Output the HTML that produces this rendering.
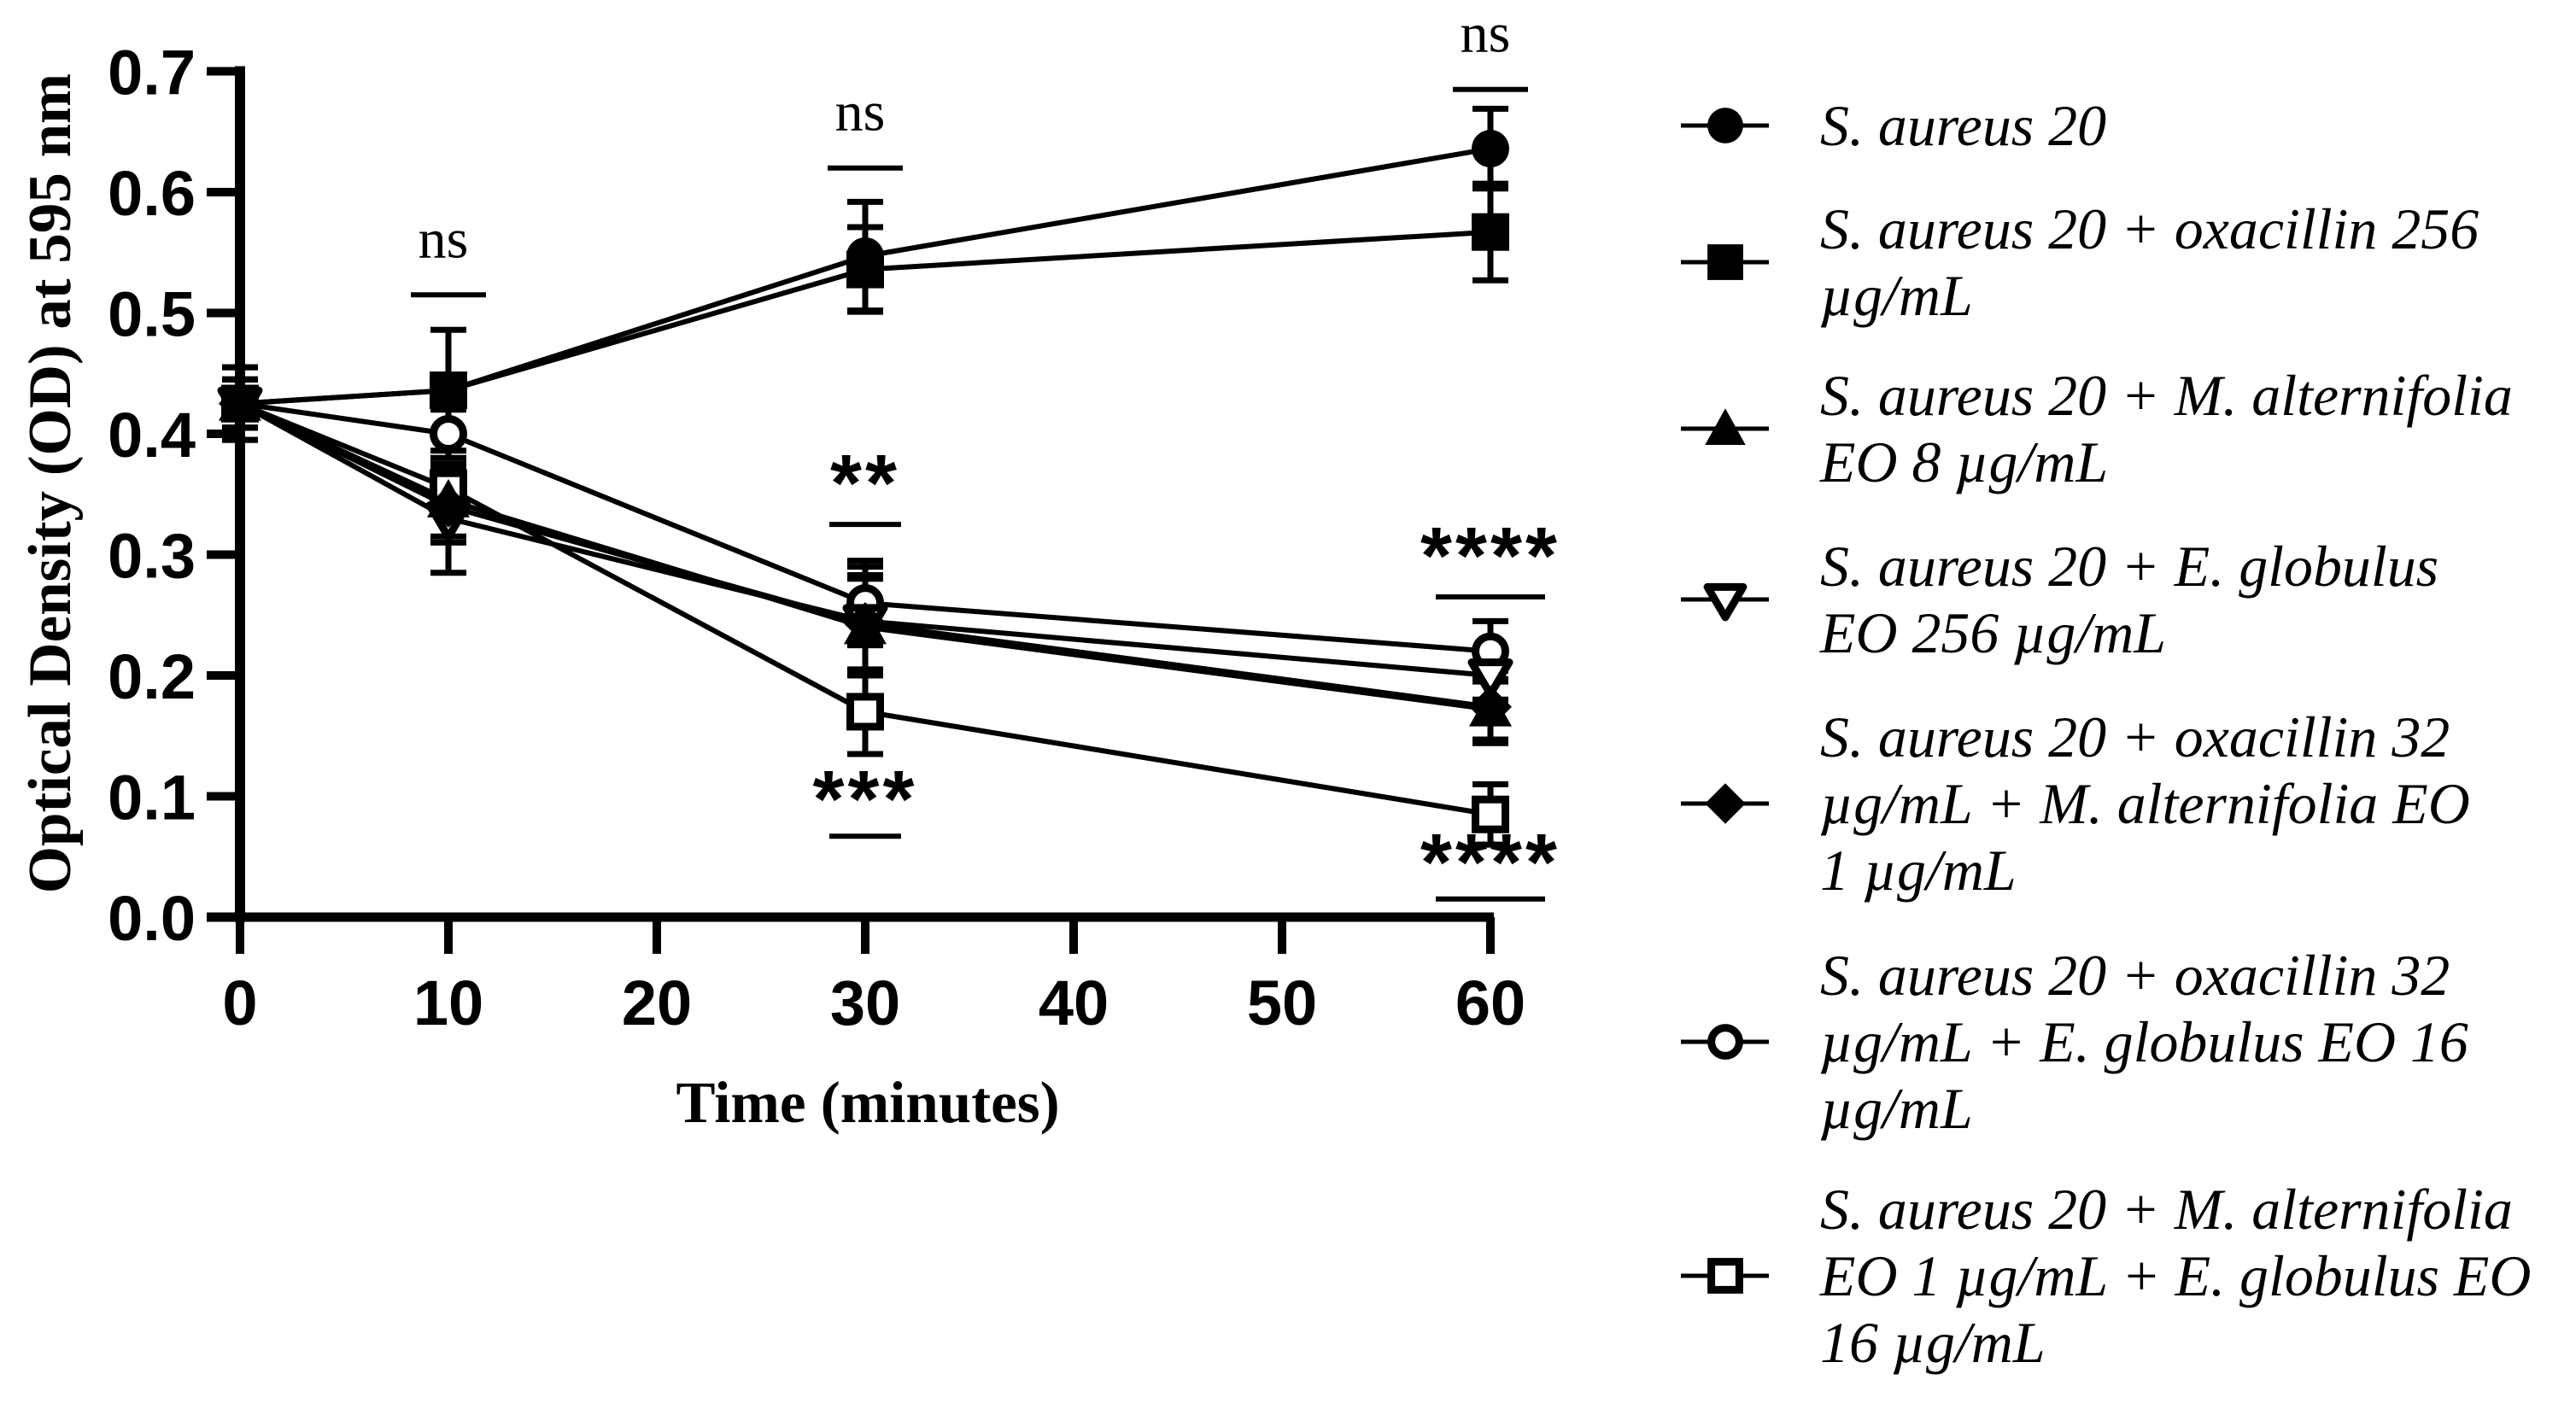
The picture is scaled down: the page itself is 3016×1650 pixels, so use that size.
<!DOCTYPE html>
<html><head><meta charset="utf-8"><style>
html,body{margin:0;padding:0;background:#fff;}
svg{display:block;}
</style></head><body>
<svg id="chart" width="3016" height="1650" viewBox="0 0 3016 1650" xmlns="http://www.w3.org/2000/svg">
<g id="axes"></g>
<g id="errs"></g>
<g id="lines"></g>
<g id="marks"></g>
<g id="annots"></g>
<g id="legend"></g>
</svg>
<script>
const times = [0, 10, 30, 60];
const xTicks = [0, 10, 20, 30, 40, 50, 60];
const yTicks = [0, 0.1, 0.2, 0.3, 0.4, 0.5, 0.6, 0.7];
const yTickLabels = ["0.0","0.1","0.2","0.3","0.4","0.5","0.6","0.7"];
const sAureus = [0.425, 0.436, 0.547, 0.636];
const oxa256 = [0.425, 0.436, 0.536, 0.567];
const maEO8 = [0.425, 0.345, 0.240, 0.172];
const egEO256 = [0.425, 0.330, 0.245, 0.200];
const oxaMa = [0.425, 0.340, 0.243, 0.174];
const oxaEg = [0.425, 0.400, 0.260, 0.220];
const maEg = [0.425, 0.355, 0.170, 0.085];
const sdSAureus = [0.030, 0.010, 0.045, 0.033];
const sdOxa256 = [0.030, 0.050, 0.035, 0.040];
const sdMaEO8 = [0.020, 0.030, 0.040, 0.025];
const sdEgEO256 = [0.020, 0.045, 0.045, 0.020];
const sdOxaMa = [0.020, 0.030, 0.040, 0.030];
const sdOxaEg = [0.020, 0.020, 0.035, 0.025];
const sdMaEg = [0.020, 0.020, 0.035, 0.025];
const annotTimes = [10, 30, 60, 30, 60, 30, 60];
const annotText = ["ns","ns","ns","**","****","***","****"];
const annotBarValues = [0.515, 0.62, 0.685, 0.325, 0.265, 0.067, 0.015];

const NS="http://www.w3.org/2000/svg";
const X0=281, XPER=244/10, Y0=1074, YPER=141.5/0.1;
function sx(t){return X0+t*XPER;}
function sy(v){return Y0-v*YPER;}
function mk(tag,attrs,parent){const e=document.createElementNS(NS,tag);for(const k in attrs)e.setAttribute(k,attrs[k]);parent.appendChild(e);return e;}
const axes=document.getElementById('axes');
let yAxis=mk('line',{x1:X0,y1:sy(0.7)-6,x2:X0,y2:Y0+6,stroke:'#000','stroke-width':12},axes);


let xAxis=mk('line',{x1:242,y1:Y0,x2:1749,y2:Y0,stroke:'#000','stroke-width':11},axes);


yTicks.forEach((v,i)=>{
  const t=mk('line',{x1:242,y1:sy(v),x2:X0,y2:sy(v),stroke:'#000','stroke-width':10},axes);
  
  
  const l=mk('text',{x:229,y:sy(v)+27,'text-anchor':'end','font-family':'Liberation Sans, sans-serif','font-weight':'bold','font-size':74},axes);
  l.textContent=yTickLabels[i];
  
  
});
xTicks.forEach(t=>{
  const k=mk('line',{x1:sx(t),y1:Y0,x2:sx(t),y2:1117,stroke:'#000','stroke-width':10},axes);
  
  
  const l=mk('text',{x:sx(t),y:1200,'text-anchor':'middle','font-family':'Liberation Sans, sans-serif','font-weight':'bold','font-size':74},axes);
  l.textContent=String(t);
  
  
});
let xt=mk('text',{x:1016,y:1314,'text-anchor':'middle','font-family':'Liberation Serif, serif','font-weight':'bold','font-size':69},axes);
xt.textContent='Time (minutes)';


let yt=mk('text',{x:0,y:0,'text-anchor':'middle','font-family':'Liberation Serif, serif','font-weight':'bold','font-size':71,transform:'translate(82,566) rotate(-90)'},axes);
yt.textContent='Optical Density (OD) at 595 nm';



const series=[
 {v:sAureus,sd:sdSAureus,m:'circle',fill:true},
 {v:oxa256,sd:sdOxa256,m:'square',fill:true},
 {v:maEO8,sd:sdMaEO8,m:'tri',fill:true},
 {v:egEO256,sd:sdEgEO256,m:'itri',fill:false},
 {v:oxaMa,sd:sdOxaMa,m:'diamond',fill:true},
 {v:oxaEg,sd:sdOxaEg,m:'circle',fill:false},
 {v:maEg,sd:sdMaEg,m:'square',fill:false}
];
function marker(type,fill,cx,cy,parent,scale){
  const s=scale||1, f=fill?'#000':'#fff', sw=fill?0:9;
  let e;
  if(type==='circle') e=mk('circle',{cx:cx,cy:cy,r:22*s-sw/2,fill:f,stroke:'#000','stroke-width':sw},parent);
  else if(type==='square'){const h=22*s-sw/2;e=mk('rect',{x:cx-h,y:cy-h,width:2*h,height:2*h,fill:f,stroke:'#000','stroke-width':sw},parent);}
  else if(type==='tri'){const r=25*s;e=mk('polygon',{points:`${cx},${cy-r} ${cx+r},${cy+r*0.8} ${cx-r},${cy+r*0.8}`,fill:f},parent);}
  else if(type==='itri'){const r=22*s;e=mk('polygon',{points:`${cx-r},${cy-r*0.7} ${cx+r},${cy-r*0.7} ${cx},${cy+r}`,fill:f,stroke:'#000','stroke-width':sw,'stroke-linejoin':'round'},parent);}
  else {const r=25*s;e=mk('polygon',{points:`${cx},${cy-r} ${cx+r},${cy} ${cx},${cy+r} ${cx-r},${cy}`,fill:f},parent);}
  return e;
}
const errs=document.getElementById('errs'),lines=document.getElementById('lines'),marks=document.getElementById('marks');
series.forEach((s,si)=>{
  s.v.forEach((v,i)=>{
    const x=sx(times[i]);
    const b=mk('path',{d:`M${x},${sy(v+s.sd[i])}V${sy(v-s.sd[i])}M${x-21},${sy(v+s.sd[i])}H${x+21}M${x-21},${sy(v-s.sd[i])}H${x+21}`,stroke:'#000','stroke-width':7,fill:'none'},errs);
    
    
  });
  const pl=mk('polyline',{points:s.v.map((v,i)=>sx(times[i])+','+sy(v)).join(' '),fill:'none',stroke:'#000','stroke-width':6},lines);
  
  
});
[6,5,3,4,2,0,1].forEach(si=>{
  const s=series[si];
  s.v.forEach((v,i)=>{
    const m=marker(s.m,s.fill,sx(times[i]),sy(v),marks);
    
    
  });
});
const annots=document.getElementById('annots');
annotText.forEach((t,i)=>{
  const x=sx(annotTimes[i]);
  const by=sy(annotBarValues[i]);
  const w=t.length>=4?64:(t==='ns'?44:42);
  const bar=mk('line',{x1:x-w,y1:by,x2:x+w,y2:by,stroke:'#000','stroke-width':6},annots);
  
  
  let txt;
  if(t==='ns'){
    txt=mk('text',{x:x-6,y:by-44,'text-anchor':'middle','font-family':'Liberation Serif, serif','font-size':66},annots);
  } else {
    txt=mk('text',{x:x,y:(i<5)?by-65+49:by-60+49,'text-anchor':'middle','font-family':'Liberation Sans, sans-serif','font-weight':'bold','font-size':95,'letter-spacing':'4'},annots);
  }
  txt.textContent=t;
  
  
});
const legend=document.getElementById('legend');
const legendLines=[["S. aureus 20"],["S. aureus 20 + oxacillin 256","µg/mL"],["S. aureus 20 + M. alternifolia","EO 8 µg/mL"],["S. aureus 20 + E. globulus","EO 256 µg/mL"],["S. aureus 20 + oxacillin 32","µg/mL + M. alternifolia EO","1 µg/mL"],["S. aureus 20 + oxacillin 32","µg/mL + E. globulus EO 16","µg/mL"],["S. aureus 20 + M. alternifolia","EO 1 µg/mL + E. globulus EO","16 µg/mL"]];
const legendFirstLineY=[147,268,463,663,863,1142,1416];
const legendTexts=[];
legendLines.forEach((ls,i)=>{
  const g=mk('g',{},legend);
  
  
  const my=legendFirstLineY[i]+(ls.length-1)*78/2;
  mk('line',{x1:1968,y1:my,x2:2071,y2:my,stroke:'#000','stroke-width':5},g);
  marker(series[i].m,series[i].fill,2020,my,g,0.95);
  ls.forEach((l,j)=>{
    const t=mk('text',{x:2131,y:legendFirstLineY[i]+j*78+23,'font-family':'Liberation Serif, serif','font-style':'italic','font-size':68},g);
    t.textContent=l;
    legendTexts.push(t);
  });
});
try{
  const w=legendTexts[0].getComputedTextLength();
  if(w>0){const fs=68*335/w;legendTexts.forEach(t=>t.setAttribute('font-size',fs.toFixed(1)));}
}catch(e){}
</script>
</body></html>
